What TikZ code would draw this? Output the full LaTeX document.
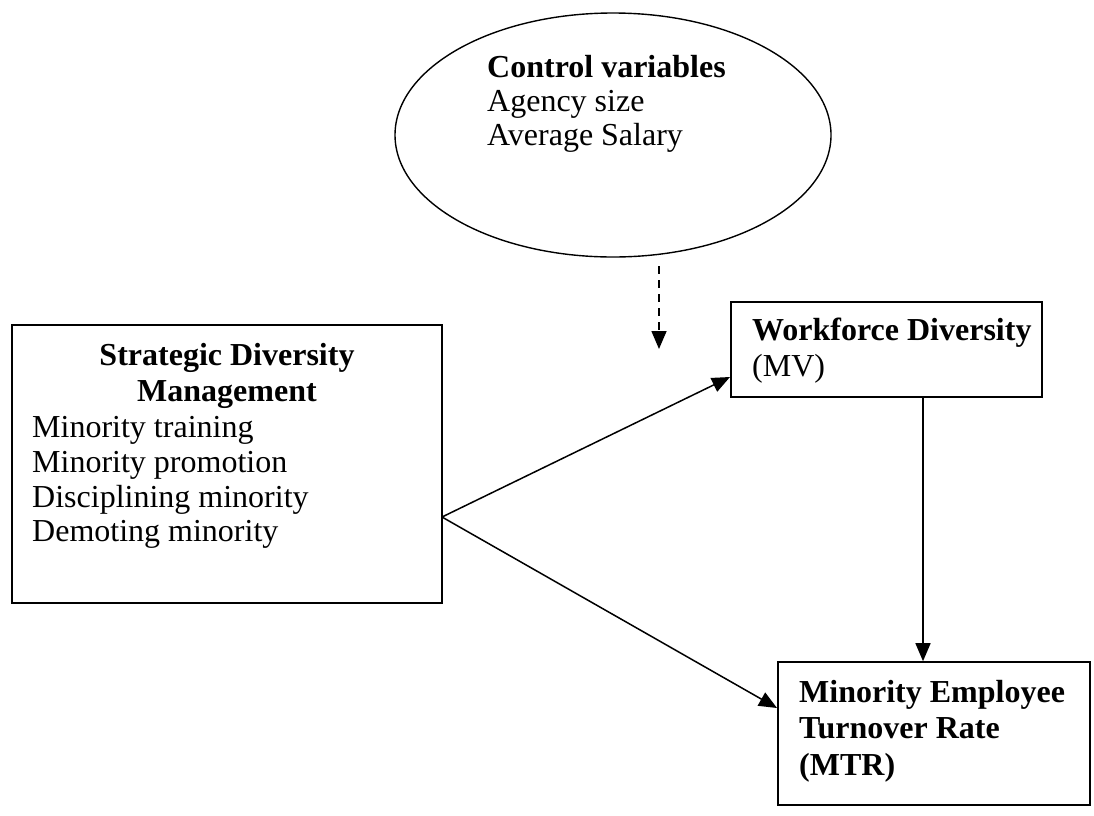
\documentclass[tikz,border=0pt]{standalone}
\usepackage{fontspec}
\setmainfont{Liberation Serif}
\usetikzlibrary{shapes.geometric,arrows.meta}
\tikzset{
  boxnode/.style={draw, line width=1.6pt, rectangle, inner sep=0pt},
  ellnode/.style={draw, line width=1.4pt, ellipse, inner sep=0pt},
  txt/.style={anchor=base west, inner sep=0pt, font=\fontsize{32}{35}\selectfont},
  btxt/.style={txt, font=\fontsize{32}{35}\selectfont\bfseries},
  ctxt/.style={btxt, anchor=base},
  conn/.style={line width=1.5pt, -{Triangle[length=18pt,width=15pt]}},
}
\begin{document}
\begin{tikzpicture}[x=1pt,y=-1pt]
\useasboundingbox (0,0) rectangle (1094,815);
% shapes
\node[ellnode, minimum width=436pt, minimum height=244pt] (cv) at (613,135) {};
\node[boxnode, minimum width=430pt, minimum height=278pt] (sdm) at (227,464) {};
\node[boxnode, minimum width=311pt, minimum height=95pt] (wd) at (886.5,349.5) {};
\node[boxnode, minimum width=312pt, minimum height=143pt] (mtr) at (934,733.5) {};
% texts
\node[btxt] (cv1) at (487,77) {Control variables};
\node[txt] (cv2) at (487,111) {Agency size};
\node[txt] (cv3) at (487,145) {Average Salary};
\node[ctxt] (s1) at (227,365) {Strategic Diversity};
\node[ctxt] (s2) at (227,401) {Management};
\node[txt] (s3) at (32,437) {Minority training};
\node[txt] (s4) at (32,472) {Minority promotion};
\node[txt] (s5) at (32,507) {Disciplining minority};
\node[txt] (s6) at (32,541) {Demoting minority};
\node[btxt] (w1) at (752,340) {Workforce Diversity};
\node[txt] (w2) at (752,376) {(MV)};
\node[btxt] (m1) at (799,702) {Minority Employee};
\node[btxt] (m2) at (799,738) {Turnover Rate};
\node[btxt] (m3) at (799,775) {(MTR)};
% connectors
\coordinate (v) at (442,517);
\coordinate (wdin) at (730,377);
\coordinate (mtrin) at (777,708);
\coordinate (dtop) at (659,266);
\coordinate (dend) at (659,349);
\draw[conn] (v) -- (wdin);
\draw[conn] (v) -- (mtrin);
\draw[conn] (wd.south -| 923,0) -- (mtr.north -| 923,0);
\draw[conn, dash pattern=on 8pt off 6pt] (dtop) -- (dend);
\end{tikzpicture}
\end{document}
